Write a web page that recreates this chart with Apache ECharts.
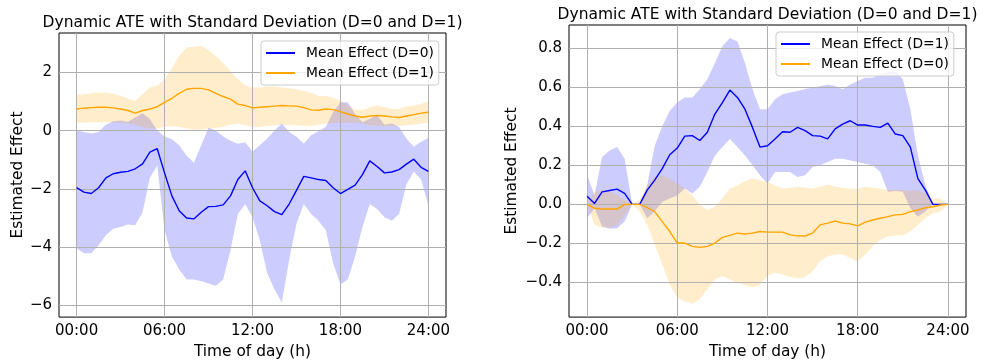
<!DOCTYPE html>
<html>
<head>
<meta charset="utf-8">
<script src="https://cdn.jsdelivr.net/npm/echarts@6/dist/echarts.min.js"></script>
<style>
  html, body { margin: 0; padding: 0; background: #fff; }
  #chart { width: 987px; height: 364px; }
</style>
</head>
<body>
<div id="chart"></div>
<script>
// time of day (hours), half-hour steps
const hours = [0, 0.5, 1, 1.5, 2, 2.5, 3, 3.5, 4, 4.5, 5, 5.5, 6, 6.5, 7, 7.5, 8, 8.5, 9, 9.5,
  10, 10.5, 11, 11.5, 12, 12.5, 13, 13.5, 14, 14.5, 15, 15.5, 16, 16.5, 17, 17.5, 18, 18.5, 19, 19.5,
  20, 20.5, 21, 21.5, 22, 22.5, 23, 23.5, 24]

// left panel
const leftD0Mean = [-1.96, -2.11, -2.16, -1.96, -1.62, -1.48, -1.43, -1.40, -1.31, -1.14,
  -0.74, -0.62, -1.45, -2.24, -2.75, -3.00, -3.03, -2.80, -2.61, -2.60,
  -2.55, -2.24, -1.68, -1.38, -1.96, -2.41, -2.58, -2.78, -2.88, -2.52,
  -2.05, -1.57, -1.62, -1.68, -1.71, -1.96, -2.16, -2.02, -1.87, -1.51,
  -1.04, -1.23, -1.45, -1.42, -1.34, -1.15, -0.98, -1.26, -1.40]
const leftD0Upper = [0.00, -0.05, -0.10, -0.05, 0.20, 0.32, 0.35, 0.30, 0.45, 0.60,
  0.40, 0.00, -0.20, -0.30, -0.50, -0.85, -1.10, -0.50, 0.10, 0.00,
  -0.20, -0.35, -0.45, -0.40, -0.72, -0.50, -0.27, 0.00, 0.24, -0.05,
  -0.21, -0.44, -0.16, -0.02, 0.12, 0.63, 0.97, 0.97, 0.57, 0.29,
  0.41, 0.54, 0.20, 0.24, 0.12, -0.27, -0.55, -0.38, -0.25]
const leftD0Lower = [-4.04, -4.21, -4.21, -3.93, -3.59, -3.37, -3.31, -3.22, -3.25, -2.80,
  -1.62, -1.20, -3.42, -4.32, -4.77, -5.11, -5.11, -5.17, -5.25, -5.32,
  -5.11, -4.10, -2.86, -2.52, -2.97, -3.76, -4.89, -5.45, -5.90, -4.44,
  -3.20, -2.52, -2.86, -3.09, -3.42, -4.55, -5.28, -5.11, -4.32, -3.31,
  -2.52, -2.69, -2.97, -3.09, -2.86, -1.85, -1.40, -1.68, -2.58]
const leftD1Mean = [0.74, 0.77, 0.79, 0.80, 0.80, 0.78, 0.74, 0.69, 0.60, 0.69,
  0.74, 0.82, 0.97, 1.11, 1.28, 1.42, 1.45, 1.45, 1.40, 1.28,
  1.17, 1.08, 0.91, 0.86, 0.78, 0.80, 0.82, 0.84, 0.86, 0.85,
  0.84, 0.79, 0.71, 0.70, 0.74, 0.72, 0.65, 0.57, 0.50, 0.46,
  0.50, 0.52, 0.50, 0.47, 0.45, 0.50, 0.55, 0.60, 0.63]
const leftD1Upper = [1.23, 1.25, 1.28, 1.31, 1.31, 1.27, 1.19, 1.10, 1.02, 1.25,
  1.48, 1.55, 1.76, 2.15, 2.57, 2.85, 2.88, 2.91, 2.77, 2.55,
  2.32, 2.04, 1.76, 1.55, 1.48, 1.48, 1.51, 1.51, 1.48, 1.45,
  1.42, 1.36, 1.31, 1.19, 1.19, 1.14, 1.02, 0.88, 0.72, 0.71,
  0.80, 0.86, 0.80, 0.74, 0.74, 0.83, 0.86, 0.91, 1.02]
const leftD1Lower = [0.27, 0.28, 0.29, 0.29, 0.29, 0.28, 0.27, 0.24, 0.20, 0.12,
  0.07, 0.07, 0.12, 0.16, 0.12, 0.07, 0.03, 0.05, 0.07, 0.09,
  0.12, 0.20, 0.24, 0.18, 0.12, 0.12, 0.16, 0.18, 0.20, 0.19,
  0.18, 0.17, 0.16, 0.20, 0.24, 0.26, 0.27, 0.27, 0.27, 0.24,
  0.18, 0.17, 0.16, 0.16, 0.16, 0.18, 0.20, 0.24, 0.27]

// right panel
const rightD1Mean = [0.042, 0.005, 0.064, 0.071, 0.078, 0.056, 0, 0, 0.073, 0.124,
  0.183, 0.254, 0.288, 0.349, 0.352, 0.327, 0.369, 0.462, 0.521, 0.585,
  0.547, 0.487, 0.394, 0.293, 0.300, 0.335, 0.372, 0.369, 0.394, 0.377,
  0.352, 0.349, 0.335, 0.386, 0.411, 0.428, 0.406, 0.406, 0.399, 0.394,
  0.416, 0.360, 0.352, 0.293, 0.132, 0.073, 0, 0, 0]
const rightD1Upper = [0.152, 0.047, 0.242, 0.276, 0.293, 0.233, 0, 0, 0.098, 0.300,
  0.400, 0.479, 0.521, 0.547, 0.547, 0.589, 0.640, 0.724, 0.809, 0.851,
  0.834, 0.724, 0.589, 0.487, 0.487, 0.538, 0.563, 0.572, 0.580, 0.590,
  0.597, 0.605, 0.614, 0.606, 0.589, 0.614, 0.631, 0.648, 0.648, 0.665,
  0.677, 0.682, 0.640, 0.487, 0.250, 0.098, 0, 0, 0]
const rightD1Lower = [-0.071, -0.020, -0.113, -0.125, -0.122, -0.088, 0, 0, -0.071, -0.037,
  0.014, 0.030, 0.047, 0.081, 0.056, 0.090, 0.166, 0.250, 0.293, 0.335,
  0.293, 0.250, 0.200, 0.149, 0.107, 0.166, 0.166, 0.166, 0.140, 0.149,
  0.191, 0.200, 0.217, 0.233, 0.233, 0.225, 0.217, 0.208, 0.200, 0.166,
  0.064, 0.068, 0.064, -0.020, -0.063, -0.037, 0, 0, 0]
const rightD0Mean = [0, -0.020, -0.024, -0.024, -0.024, 0, 0, 0, -0.017, -0.037,
  -0.088, -0.139, -0.198, -0.198, -0.215, -0.220, -0.215, -0.198, -0.169, -0.159,
  -0.147, -0.152, -0.147, -0.139, -0.142, -0.142, -0.142, -0.156, -0.161, -0.162,
  -0.147, -0.105, -0.096, -0.085, -0.096, -0.100, -0.110, -0.091, -0.080, -0.071,
  -0.063, -0.054, -0.051, -0.037, -0.029, -0.017, -0.012, -0.003, 0]
const rightD0Upper = [0, 0.064, 0.073, 0.068, 0.047, 0.022, 0, 0.022, 0.098, 0.140,
  0.149, 0.132, 0.107, 0.081, 0.047, -0.003, -0.029, -0.012, 0.030, 0.081,
  0.098, 0.118, 0.132, 0.124, 0.115, 0.098, 0.081, 0.085, 0.090, 0.085,
  0.081, 0.090, 0.100, 0.092, 0.085, 0.080, 0.078, 0.090, 0.085, 0.080,
  0.073, 0.073, 0.073, 0.068, 0.073, 0.056, 0.030, 0.030, 0]
const rightD0Lower = [0, -0.105, -0.118, -0.118, -0.105, -0.054, 0, -0.037, -0.105, -0.206,
  -0.308, -0.410, -0.477, -0.497, -0.508, -0.486, -0.435, -0.384, -0.367, -0.384,
  -0.401, -0.413, -0.426, -0.410, -0.367, -0.350, -0.359, -0.372, -0.379, -0.372,
  -0.342, -0.291, -0.266, -0.257, -0.257, -0.274, -0.291, -0.257, -0.215, -0.181,
  -0.164, -0.159, -0.159, -0.139, -0.105, -0.071, -0.046, -0.037, 0]

// tick labels
const xTicks = [0, 6, 12, 18, 24]
const leftYTicks = [-6, -4, -2, 0, 2]
const rightYTicks = [-0.4, -0.2, 0, 0.2, 0.4, 0.6, 0.8]

const FONT = 'DejaVu Sans'
const BLUE = '#0000ff'
const ORANGE = '#ffa500'
const TITLE = 'Dynamic ATE with Standard Deviation (D=0 and D=1)'

const minus = (s, v) => (v < 0 ? '\u2212' : '') + s

const xAxisFor = (gridIndex) => ({
  type: 'value',
  gridIndex,
  min: -1.2,
  max: 25.2,
  axisLine: { show: false },
  splitLine: { show: false },
  axisTick: { customValues: xTicks, length: 4, lineStyle: { color: '#000', width: 1 } },
  axisLabel: {
    customValues: xTicks,
    margin: 7,
    color: '#000',
    fontSize: 15,
    fontFamily: FONT,
    formatter: v => String(v).padStart(2, '0') + ':00'
  },
  name: 'Time of day (h)',
  nameLocation: 'middle',
  nameGap: 24,
  nameTextStyle: { color: '#000', fontSize: 15.4, fontFamily: FONT }
})

const yAxisFor = (gridIndex, min, max, ticks, fmt, nameGap) => ({
  type: 'value',
  gridIndex,
  min,
  max,
  axisLine: { show: false },
  splitLine: { show: false },
  axisTick: { customValues: ticks, length: 4, lineStyle: { color: '#000', width: 1 } },
  axisLabel: {
    customValues: ticks,
    margin: 7,
    color: '#000',
    fontSize: 15,
    fontFamily: FONT,
    formatter: fmt
  },
  name: 'Estimated Effect',
  nameLocation: 'middle',
  nameGap,
  nameTextStyle: { color: '#000', fontSize: 15.4, fontFamily: FONT }
})

// shaded +/- std band, drawn as one polygon through the axis scales
const band = (idx, lower, upper, color) => ({
  type: 'custom',
  xAxisIndex: idx,
  yAxisIndex: idx,
  silent: true,
  z: 1,
  data: hours.map((h, i) => [h, lower[i], upper[i]]),
  encode: { x: 0, y: [1, 2] },
  renderItem: (params, api) => {
    if (params.dataIndex !== 0) return
    const pts = []
    for (let i = 0; i < hours.length; i++) pts.push(api.coord([hours[i], upper[i]]))
    for (let i = hours.length - 1; i >= 0; i--) pts.push(api.coord([hours[i], lower[i]]))
    return { type: 'polygon', shape: { points: pts }, style: { fill: color } }
  }
})

const meanLine = (idx, name, values, color, gridLines) => ({
  type: 'line',
  name,
  xAxisIndex: idx,
  yAxisIndex: idx,
  data: hours.map((h, i) => [h, values[i]]),
  symbol: 'none',
  z: 3,
  lineStyle: { color, width: 1.4 },
  itemStyle: { color },
  emphasis: { disabled: true },
  markLine: gridLines
})

const gridLines = (yTicks) => ({
  silent: true,
  symbol: 'none',
  z: 2,
  animation: false,
  label: { show: false },
  lineStyle: { color: '#b0b0b0', width: 1, type: 'solid' },
  emphasis: { disabled: true },
  data: [...xTicks.map(v => ({ xAxis: v })), ...yTicks.map(v => ({ yAxis: v }))]
})

const legendFor = (left, top, names) => ({
  left,
  top,
  orient: 'vertical',
  data: names,
  icon: 'rect',
  itemWidth: 29,
  itemHeight: 2,
  itemGap: 6,
  padding: 5,
  backgroundColor: 'rgba(255,255,255,0.8)',
  borderColor: '#cccccc',
  borderWidth: 1,
  borderRadius: 3,
  selectedMode: false,
  formatter: n => n.replace(/^R:/, ''),
  textStyle: { color: '#000', fontSize: 13.8, fontFamily: FONT, lineHeight: 14, padding: [0, 0, 0, 6] }
})

const chart = echarts.init(document.getElementById('chart'), null, { renderer: 'canvas' })

chart.setOption({
  animation: false,
  backgroundColor: '#fff',
  grid: [
    { left: 59, top: 33, width: 387, height: 288, show: true, borderColor: '#000', borderWidth: 1, backgroundColor: 'transparent' },
    { left: 569, top: 25, width: 397, height: 295, show: true, borderColor: '#000', borderWidth: 1, backgroundColor: 'transparent' }
  ],
  graphic: [
    { type: 'text', x: 252.5, y: 23, style: { text: TITLE, fill: '#000', font: '15.5px "DejaVu Sans"', textAlign: 'center', textVerticalAlign: 'middle' } },
    { type: 'text', x: 767.5, y: 14.5, style: { text: TITLE, fill: '#000', font: '15.5px "DejaVu Sans"', textAlign: 'center', textVerticalAlign: 'middle' } }
  ],
  legend: [
    legendFor(261, 41, ['Mean Effect (D=0)', 'Mean Effect (D=1)']),
    legendFor(776, 32, ['R:Mean Effect (D=1)', 'R:Mean Effect (D=0)'])
  ],
  xAxis: [xAxisFor(0), xAxisFor(1)],
  yAxis: [
    yAxisFor(0, -6.40, 3.35, leftYTicks, v => minus(String(Math.abs(v)), v), 33),
    yAxisFor(1, -0.577, 0.918, rightYTicks, v => minus(Math.abs(v).toFixed(1), v), 50)
  ],
  series: [
    band(0, leftD0Lower, leftD0Upper, 'rgba(0,0,255,0.2)'),
    band(0, leftD1Lower, leftD1Upper, 'rgba(255,165,0,0.2)'),
    meanLine(0, 'Mean Effect (D=0)', leftD0Mean, BLUE, gridLines(leftYTicks)),
    meanLine(0, 'Mean Effect (D=1)', leftD1Mean, ORANGE),
    band(1, rightD1Lower, rightD1Upper, 'rgba(0,0,255,0.2)'),
    band(1, rightD0Lower, rightD0Upper, 'rgba(255,165,0,0.2)'),
    meanLine(1, 'R:Mean Effect (D=1)', rightD1Mean, BLUE, gridLines(rightYTicks)),
    meanLine(1, 'R:Mean Effect (D=0)', rightD0Mean, ORANGE)
  ]
})

window.addEventListener('resize', () => chart.resize())
</script>
</body>
</html>
